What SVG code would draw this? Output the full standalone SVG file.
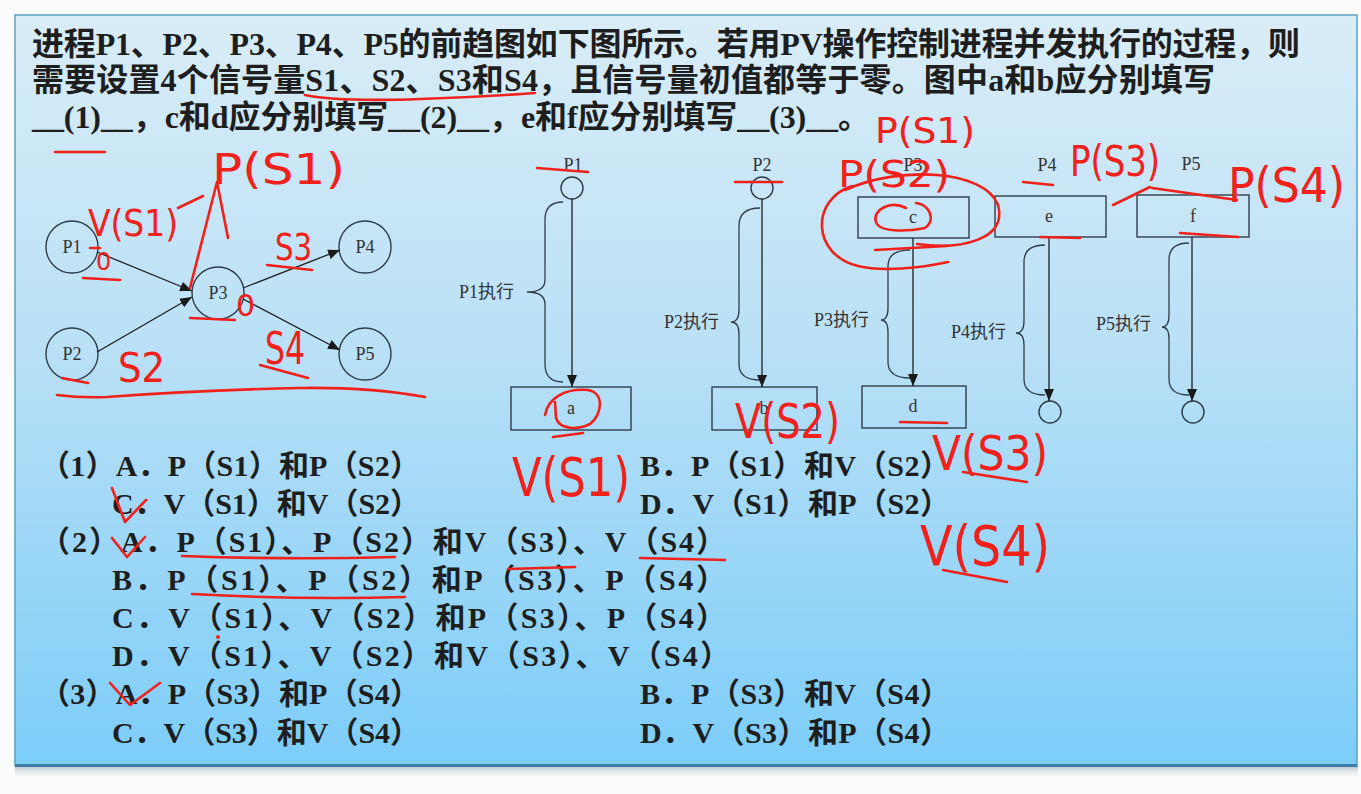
<svg xmlns="http://www.w3.org/2000/svg" width="1361" height="794" viewBox="0 0 1361 794">
<defs>
<linearGradient id="bg" x1="0" y1="0" x2="0" y2="1">
<stop offset="0" stop-color="#d9edf7"/>
<stop offset="0.45" stop-color="#b9e0f6"/>
<stop offset="1" stop-color="#7ccdf9"/>
</linearGradient>
<linearGradient id="shadow" x1="0" y1="0" x2="0" y2="1">
<stop offset="0" stop-color="#9aa9b3" stop-opacity="0.7"/>
<stop offset="1" stop-color="#ffffff" stop-opacity="0"/>
</linearGradient>
<marker id="ah" viewBox="0 0 12 10" refX="12" refY="5" markerWidth="12" markerHeight="10" markerUnits="userSpaceOnUse" orient="auto">
<path d="M0,0 L12,5 L0,10 Z" fill="#1a1a1a"/>
</marker>
<style>
.q{font-family:"Liberation Serif","Noto Sans CJK SC",serif;font-weight:bold;fill:#1e1e1e}
.t{font-size:32px}
.o{font-size:30px}
.lbl{font-family:"Liberation Serif","Noto Sans CJK SC",serif;font-size:18px;fill:#333}
.nd{fill:none;stroke:#2e3d4a;stroke-width:1.4}
.ln{fill:none;stroke:#1e1e1e;stroke-width:1.3}
.br{fill:none;stroke:#2e3d4a;stroke-width:1.3}
.rd{fill:none;stroke:#f0201a;stroke-width:2.6;stroke-linecap:round;stroke-linejoin:round}
.hw{font-family:"DejaVu Sans","Liberation Sans",sans-serif;font-weight:normal;fill:#f0201a}
</style>
</defs>
<rect x="0" y="0" width="1361" height="794" fill="#fbfdfd"/>
<rect x="15" y="766" width="1343" height="14" fill="url(#shadow)"/>
<rect x="15" y="15" width="1342" height="751" fill="url(#bg)" stroke="#5d9fc4" stroke-width="1.5"/>
<line x1="15" y1="765.5" x2="1357" y2="765.5" stroke="#3f7ea6" stroke-width="3"/>

<g id="question">
<text class="q t" x="32" y="55" textLength="1268" lengthAdjust="spacing">进程P1、P2、P3、P4、P5的前趋图如下图所示。若用PV操作控制进程并发执行的过程，则</text>
<text class="q t" x="32" y="91" textLength="1183" lengthAdjust="spacing">需要设置4个信号量S1、S2、S3和S4，且信号量初值都等于零。图中a和b应分别填写</text>
<text class="q t" x="32" y="128" textLength="838" lengthAdjust="spacing">__(1)__，c和d应分别填写__(2)__，e和f应分别填写__(3)__。</text>
</g>

<g id="options">
<text class="q o" x="40" y="476" textLength="380" lengthAdjust="spacing">（1）A．P（S1）和P（S2）</text>
<text class="q o" x="640" y="476" textLength="310" lengthAdjust="spacing">B．P（S1）和V（S2）</text>
<text class="q o" x="112" y="514" textLength="308" lengthAdjust="spacing">C．V（S1）和V（S2）</text>
<text class="q o" x="640" y="514" textLength="310" lengthAdjust="spacing">D．V（S1）和P（S2）</text>
<text class="q o" x="40" y="552" textLength="686" lengthAdjust="spacing">（2）A．P（S1）、P（S2）和V（S3）、V（S4）</text>
<text class="q o" x="112" y="590" textLength="614" lengthAdjust="spacing">B．P（S1）、P（S2）和P（S3）、P（S4）</text>
<text class="q o" x="112" y="628" textLength="614" lengthAdjust="spacing">C．V（S1）、V（S2）和P（S3）、P（S4）</text>
<text class="q o" x="112" y="666" textLength="618" lengthAdjust="spacing">D．V（S1）、V（S2）和V（S3）、V（S4）</text>
<text class="q o" x="40" y="704" textLength="380" lengthAdjust="spacing">（3）A．P（S3）和P（S4）</text>
<text class="q o" x="640" y="704" textLength="310" lengthAdjust="spacing">B．P（S3）和V（S4）</text>
<text class="q o" x="112" y="743" textLength="308" lengthAdjust="spacing">C．V（S3）和V（S4）</text>
<text class="q o" x="640" y="743" textLength="310" lengthAdjust="spacing">D．V（S3）和P（S4）</text>
</g>

<g id="graph-P1"><circle class="nd" cx="72" cy="247" r="26"/><text class="lbl" x="72" y="253" text-anchor="middle">P1</text></g>
<g id="graph-P2"><circle class="nd" cx="72" cy="354" r="26"/><text class="lbl" x="72" y="360" text-anchor="middle">P2</text></g>
<g id="graph-P3"><circle class="nd" cx="218" cy="293" r="26"/><text class="lbl" x="218" y="299" text-anchor="middle">P3</text></g>
<g id="graph-P4"><circle class="nd" cx="365" cy="247" r="26"/><text class="lbl" x="365" y="253" text-anchor="middle">P4</text></g>
<g id="graph-P5"><circle class="nd" cx="365" cy="354" r="26"/><text class="lbl" x="365" y="360" text-anchor="middle">P5</text></g>

<g id="proc-P1">
<text class="lbl" x="573" y="171" text-anchor="middle">P1</text>
<circle class="nd" cx="572" cy="188" r="11"/>
<rect class="nd" x="511" y="387" width="120" height="43"/>
<text class="lbl" x="571" y="414" text-anchor="middle">a</text>
<path class="br" d="M563,202 Q545,202 545,220 L545,280 Q545,292 527,292 Q545,292 545,304 L545,364 Q545,382 563,382"/>
<text class="lbl" x="514" y="298" text-anchor="end">P1执行</text>
</g>
<g id="proc-P2">
<text class="lbl" x="762" y="171" text-anchor="middle">P2</text>
<circle class="nd" cx="762" cy="188" r="11"/>
<rect class="nd" x="712" y="387" width="105" height="43"/>
<text class="lbl" x="764" y="414" text-anchor="middle">b</text>
<path class="br" d="M760,208 Q739,208 739,226 L739,310 Q739,322 731,322 Q739,322 739,334 L739,364 Q739,380 760,380"/>
<text class="lbl" x="719" y="328" text-anchor="end">P2执行</text>
</g>
<g id="proc-P3">
<text class="lbl" x="913" y="171" text-anchor="middle">P3</text>
<rect class="nd" x="858" y="197" width="111" height="41"/>
<text class="lbl" x="913" y="223" text-anchor="middle">c</text>
<rect class="nd" x="862" y="386" width="104" height="42"/>
<text class="lbl" x="913" y="412" text-anchor="middle">d</text>
<path class="br" d="M910,250 Q888,250 888,266 L888,308 Q888,320 881,320 Q888,320 888,332 L888,362 Q888,378 910,378"/>
<text class="lbl" x="869" y="326" text-anchor="end">P3执行</text>
</g>
<g id="proc-P4">
<text class="lbl" x="1047" y="171" text-anchor="middle">P4</text>
<rect class="nd" x="995" y="196" width="111" height="41"/>
<text class="lbl" x="1049" y="222" text-anchor="middle">e</text>
<circle class="nd" cx="1050" cy="412" r="11"/>
<path class="br" d="M1045,245 Q1024,245 1024,262 L1024,321 Q1024,333 1016,333 Q1024,333 1024,345 L1024,379 Q1024,395 1045,395"/>
<text class="lbl" x="1006" y="338" text-anchor="end">P4执行</text>
</g>
<g id="proc-P5">
<text class="lbl" x="1191" y="170" text-anchor="middle">P5</text>
<rect class="nd" x="1137" y="195" width="112" height="42"/>
<text class="lbl" x="1193" y="222" text-anchor="middle">f</text>
<circle class="nd" cx="1193" cy="412" r="11"/>
<path class="br" d="M1189,243 Q1169,243 1169,260 L1169,315 Q1169,327 1162,327 Q1169,327 1169,339 L1169,379 Q1169,395 1189,395"/>
<text class="lbl" x="1151" y="330" text-anchor="end">P5执行</text>
</g>

<g id="connectors">
<line class="ln" x1="97" y1="252" x2="192" y2="291" marker-end="url(#ah)"/>
<line class="ln" x1="97" y1="352" x2="192" y2="297" marker-end="url(#ah)"/>
<line class="ln" x1="243" y1="288" x2="340" y2="250" marker-end="url(#ah)"/>
<line class="ln" x1="243" y1="299" x2="340" y2="350" marker-end="url(#ah)"/>
<line class="ln" x1="572" y1="199" x2="572" y2="387" marker-end="url(#ah)"/>
<line class="ln" x1="762" y1="199" x2="762" y2="387" marker-end="url(#ah)"/>
<line class="ln" x1="913" y1="238" x2="913" y2="386" marker-end="url(#ah)"/>
<line class="ln" x1="1049" y1="237" x2="1049" y2="401" marker-end="url(#ah)"/>
<line class="ln" x1="1192" y1="237" x2="1192" y2="401" marker-end="url(#ah)"/>
</g>

<g id="annotations">
<path class="rd" d="M305,95 Q340,102 420,99 Q480,97 535,93"/>
<path class="rd" d="M55,152 L105,152"/>
<text class="hw" x="875" y="143" font-size="36" textLength="100" lengthAdjust="spacingAndGlyphs">P(S1)</text>
<text class="hw" x="212" y="184" font-size="42" textLength="133" lengthAdjust="spacingAndGlyphs">P(S1)</text>
<path class="rd" d="M190,288 L217,182 L228,238 M178,208 L203,196"/>
<text class="hw" x="88" y="236" font-size="38" textLength="90" lengthAdjust="spacingAndGlyphs">V(S1)</text>
<text class="hw" x="96" y="270" font-size="24">0</text>
<path class="rd" d="M90,248 L100,248 M83,278 L120,280"/>
<text class="hw" x="275" y="260" font-size="38" textLength="37" lengthAdjust="spacingAndGlyphs">S3</text>
<path class="rd" d="M267,265 L312,270"/>
<text class="hw" x="236" y="316" font-size="30">0</text>
<path class="rd" d="M190,318 L235,320"/>
<text class="hw" x="265" y="364" font-size="44" textLength="40" lengthAdjust="spacingAndGlyphs">S4</text>
<path class="rd" d="M260,365 L308,378"/>
<text class="hw" x="118" y="382" font-size="40" textLength="47" lengthAdjust="spacingAndGlyphs">S2</text>
<path class="rd" d="M62,378 L88,383"/>
<path class="rd" d="M57,395 Q80,398 107,397 Q200,390 300,388 Q370,387 425,397"/>
<path class="rd" d="M537,168 L588,172 M735,182 L782,182"/>
<path class="rd" d="M545,415 C548,398 565,388 588,390 C605,393 602,415 590,424 C578,430 560,430 556,418 L555,402 M553,437 L583,433"/>
<text class="hw" x="512" y="496" font-size="54" textLength="118" lengthAdjust="spacingAndGlyphs">V(S1)</text>
<text class="hw" x="735" y="438" font-size="48" textLength="105" lengthAdjust="spacingAndGlyphs">V(S2)</text>
<text class="hw" x="838" y="187" font-size="38" textLength="112" lengthAdjust="spacingAndGlyphs">P(S2)</text>
<path class="rd" d="M845,190 C900,165 985,170 998,205 C1008,240 960,250 917,244"/>
<path class="rd" d="M852,186 C810,200 812,255 858,266 C882,272 920,268 948,262"/>
<path class="rd" d="M906,208 C890,200 872,210 876,222 C879,232 905,232 925,228 C936,220 930,205 916,203"/>
<path class="rd" d="M875,250 L947,246"/>
<text class="hw" x="1070" y="176" font-size="42" textLength="90" lengthAdjust="spacingAndGlyphs">P(S3)</text>
<path class="rd" d="M1113,205 L1150,187 M1023,182 L1053,185 M1152,188 L1237,200 M1040,237 L1080,238 M1180,233 L1238,237"/>
<text class="hw" x="1228" y="202" font-size="48" textLength="117" lengthAdjust="spacingAndGlyphs">P(S4)</text>
<path class="rd" d="M900,422 L947,423"/>
<text class="hw" x="932" y="470" font-size="48" textLength="116" lengthAdjust="spacingAndGlyphs">V(S3)</text>
<path class="rd" d="M963,472 L1027,482"/>
<text class="hw" x="920" y="565" font-size="56" textLength="130" lengthAdjust="spacingAndGlyphs">V(S4)</text>
<path class="rd" d="M943,570 L1007,582"/>
<path class="rd" d="M112,488 L125,522 L146,500"/>
<path class="rd" d="M112,538 L127,557 L145,537"/>
<path class="rd" d="M182,556 Q290,560 395,557 M640,558 L725,560"/>
<path class="rd" d="M192,594 Q300,600 405,597 M508,569 L575,567"/>
<path class="rd" d="M110,683 L130,705 L160,683"/>
<circle cx="218" cy="637" r="2" fill="#f0201a"/>
</g>
</svg>
